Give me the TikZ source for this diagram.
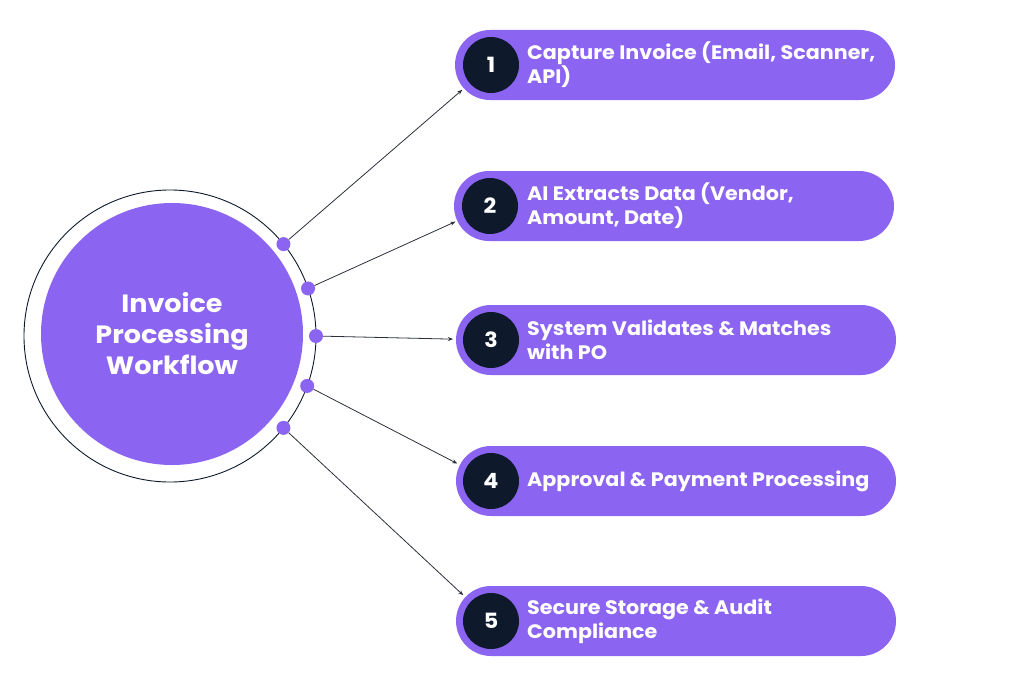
\documentclass[tikz,border=0pt]{standalone}
\usepackage{fontspec}
\setmainfont{Poppins}
\newfontfamily\pillfont{Poppins}[FakeStretch=1.06]
\newfontfamily\hubfont{Poppins}[FakeStretch=1.08]
\usetikzlibrary{arrows.meta}
\definecolor{purp}{HTML}{8B64F2}
\definecolor{navy}{HTML}{0E1A2B}
\definecolor{linec}{HTML}{2A2F3A}
\tikzset{
  dotnode/.style={circle, fill=purp, minimum size=14pt, inner sep=0pt},
  pill/.style={rectangle, rounded corners=35pt, fill=purp, minimum width=440pt, minimum height=70pt, inner sep=0pt},
  numc/.style={circle, fill=navy, minimum size=56pt, inner sep=0pt, outer sep=10pt, text=white, font=\pillfont\bfseries\fontsize{21}{24}\selectfont},
  ptext/.style={anchor=west, text=white, align=left, inner sep=0pt, font=\pillfont\bfseries\fontsize{19.5}{24}\selectfont},
  arr/.style={-{Stealth[length=5pt,width=4pt]}, draw=linec, line width=0.8pt}
}
\begin{document}
\begin{tikzpicture}[x=1pt,y=-1pt]
\useasboundingbox (0,0) rectangle (1024,685);
\node[circle, draw=navy, line width=0.9pt, minimum size=292pt, inner sep=0pt, outer sep=0pt] (outer) at (170,336) {};
\node[circle, fill=purp, minimum size=262pt, inner sep=0pt, text=white, align=center, font=\hubfont\bfseries\fontsize{25}{31}\selectfont] (hub) at (172,334) {Invoice\\Processing\\Workflow};
\node[dotnode] (d1) at (outer.39) {};
\node[dotnode] (d2) at (outer.19) {};
\node[dotnode] (d3) at (outer.0) {};
\node[dotnode] (d4) at (outer.-20) {};
\node[dotnode] (d5) at (outer.-39) {};
\node[pill] (p1) at (675,65) {};
\node[pill] (p2) at (674,206) {};
\node[pill] (p3) at (676,340) {};
\node[pill] (p4) at (676,481) {};
\node[pill] (p5) at (676,621) {};
\node[numc] (n1) at (491,65) {1};
\node[numc] (n2) at (490,206) {2};
\node[numc] (n3) at (491,340) {3};
\node[numc] (n4) at (491,481) {4};
\node[numc] (n5) at (491,621) {5};
\node[ptext] (t1) at (527,65) {Capture Invoice (Email, Scanner,\\API)};
\node[ptext] (t2) at (527,206) {AI Extracts Data (Vendor,\\Amount, Date)};
\node[ptext] (t3) at (527,340) {System Validates \& Matches\\with PO};
\node[ptext] (t4) at (527,481) {Approval \& Payment Processing};
\node[ptext] (t5) at (527,621) {Secure Storage \& Audit\\Compliance};
\draw[arr] (d1) -- (n1);
\draw[arr] (d2) -- (n2);
\draw[arr] (d3) -- (n3);
\draw[arr] (d4) -- (n4);
\draw[arr] (d5) -- (n5);
\end{tikzpicture}
\end{document}
